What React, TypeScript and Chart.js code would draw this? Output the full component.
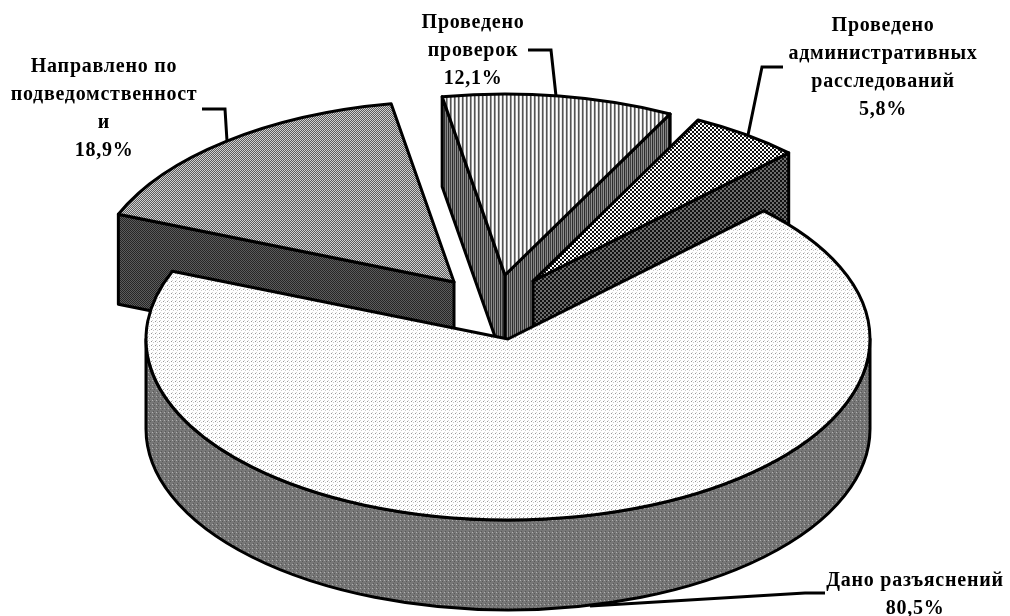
import React, { useEffect, useRef } from "react";
import { Chart, registerables } from "chart.js";

Chart.register(...registerables);

const categories: string[][] = [
  ["Направлено по", "подведомственност", "и"],
  ["Проведено", "проверок"],
  ["Проведено", "административных", "расследований"],
  ["Дано разъяснений"],
];
const values = [18.9, 12.1, 5.8, 80.5];

const CX = 495, CY = 307, SQUASH = 0.5, DEPTH = 90, EXPLODE = 65, RADIUS = 362;

const labelStyle = [
  { x: 104, y: 67 },
  { x: 473, y: 23 },
  { x: 883, y: 26 },
  { x: 915, y: 581 },
];
const leaders: number[][][] = [
  [[202, 109], [225, 109], [227, 141]],
  [[528, 50], [551, 50], [556, 96]],
  [[783, 67], [762, 67], [748, 135]],
  [[825, 593], [805, 593], [590, 606]],
];

function tile(rows: string[][]) {
  const c = document.createElement("canvas");
  c.height = rows.length;
  c.width = rows[0].length;
  const x = c.getContext("2d")!;
  rows.forEach((r, j) => r.forEach((col, i) => {
    x.fillStyle = col;
    x.fillRect(i, j, 1, 1);
  }));
  return c;
}
function pattern(ctx: CanvasRenderingContext2D, rows: string[][], cancelSquash: boolean) {
  const p = ctx.createPattern(tile(rows), "repeat")!;
  if (cancelSquash) p.setTransform(new DOMMatrix().scale(1, 1 / SQUASH));
  return p;
}
const W = "#ffffff";
const topTiles: string[][][] = [
  [["#5c5c5c", "#d0d0d0"], ["#d0d0d0", "#5c5c5c"]],
  [[W, "#e8e8e8", "#555555", "#9a9a9a"]],
  [["#111", "#111", W, W], ["#111", "#111", W, W], [W, W, "#111", "#111"], [W, W, "#111", "#111"]],
  [["#999999", W, W, W], [W, W, "#cccccc", W], [W, W, W, W], [W, "#d4d4d4", W, W]],
];
const sideTiles: string[][][] = [
  [["#262626", "#5c5c5c"], ["#5c5c5c", "#262626"]],
  [["#2c2c2c", "#808080", "#404040", "#909090"]],
  [["#111", "#111", "#6c6c6c", "#6c6c6c"], ["#111", "#111", "#6c6c6c", "#6c6c6c"], ["#6c6c6c", "#6c6c6c", "#111", "#111"], ["#6c6c6c", "#6c6c6c", "#111", "#111"]],
  [["#b0b0b0", "#777", "#777", "#777"], ["#777", "#777", "#5a5a5a", "#777"], ["#777", "#777", "#777", "#777"], ["#777", "#5a5a5a", "#777", "#777"]],
];

export default function App() {
  const ref = useRef<HTMLCanvasElement>(null);
  useEffect(() => {
    const canvas = ref.current!;
    const c2d = canvas.getContext("2d")!;
    const sides = sideTiles.map((t) => pattern(c2d, t, false));

    const pie3d = {
      id: "pie3d",
      beforeDatasetsDraw(chart: any) {
        const ctx: CanvasRenderingContext2D = chart.ctx;
        const arcs = chart.getDatasetMeta(0).data;
        const shift = (a: any) => {
          const mid = (a.startAngle + a.endAngle) / 2;
          return [
            Math.round(CX + EXPLODE * Math.cos(mid)),
            Math.round(CY + SQUASH * EXPLODE * Math.sin(mid)),
          ];
        };
        const rim = (a: any, t: number) => {
          const [ox, oy] = shift(a);
          return [ox + a.outerRadius * Math.cos(t), oy + SQUASH * a.outerRadius * Math.sin(t)];
        };
        ctx.lineWidth = 3;
        ctx.lineJoin = "round";
        ctx.strokeStyle = "#000";
        const paint = (i: number) => {
          ctx.fillStyle = sides[i];
          ctx.fill();
          ctx.stroke();
        };
        arcs.forEach((a: any, i: number) => {
          const [ox, oy] = shift(a);
          const radial = (t: number) => {
            const [x, y] = rim(a, t);
            ctx.beginPath();
            ctx.moveTo(ox, oy);
            ctx.lineTo(x, y);
            ctx.lineTo(x, y + DEPTH);
            ctx.lineTo(ox, oy + DEPTH);
            ctx.closePath();
            paint(i);
          };
          if (-Math.cos(a.startAngle) > 0) radial(a.startAngle);
          if (Math.cos(a.endAngle) > 0) radial(a.endAngle);
          // outer wall: the lower half of the rim, pushed down by the depth
          const norm = (t: number) => {
            const tau = Math.PI * 2;
            return ((t % tau) + tau) % tau;
          };
          let s = norm(a.startAngle);
          let e = s + (a.endAngle - a.startAngle);
          if (s > Math.PI) s -= Math.PI * 2, e -= Math.PI * 2;
          const from = Math.max(s, 0);
          const to = Math.min(e, Math.PI);
          if (to > from) {
            ctx.beginPath();
            ctx.ellipse(ox, oy, a.outerRadius, SQUASH * a.outerRadius, 0, from, to);
            ctx.ellipse(ox, oy + DEPTH, a.outerRadius, SQUASH * a.outerRadius, 0, to, from, true);
            ctx.closePath();
            paint(i);
          }
        });
        arcs.forEach((a: any) => {
          const [ox, oy] = shift(a);
          ctx.save();
          ctx.translate(ox, oy);
          ctx.scale(1, SQUASH);
          ctx.translate(-a.x, -a.y);
          a.draw(ctx);
          ctx.beginPath();
          ctx.moveTo(a.x, a.y);
          ctx.arc(a.x, a.y, a.outerRadius, a.startAngle, a.endAngle);
          ctx.closePath();
          ctx.restore();
          ctx.stroke();
        });
        return false;
      },
      afterDraw(chart: any) {
        const ctx: any = chart.ctx;
        ctx.save();
        ctx.strokeStyle = "#000";
        ctx.lineWidth = 3;
        ctx.lineJoin = "miter";
        leaders.forEach((pts) => {
          ctx.beginPath();
          pts.forEach(([x, y], k) => (k ? ctx.lineTo(x, y) : ctx.moveTo(x, y)));
          ctx.stroke();
        });
        ctx.fillStyle = "#000";
        ctx.font = "bold 20px 'Liberation Serif'";
        ctx.letterSpacing = "0.75px";
        ctx.textAlign = "center";
        ctx.textBaseline = "middle";
        categories.forEach((lines, i) => {
          const pct = values[i].toFixed(1).replace(".", ",") + "%";
          const all = [...lines, pct];
          const { x, y } = labelStyle[i];
          all.forEach((t, k) => ctx.fillText(t, x, y + k * 28));
        });
        ctx.restore();
      },
    };

    const chart = new Chart(canvas, {
      type: "pie",
      data: {
        labels: categories.map((c) => c.join(" ")),
        datasets: [
          {
            data: values,
            backgroundColor: topTiles.map((t) => pattern(c2d, t, true)),
            borderWidth: 0,
            radius: RADIUS,
          } as any,
        ],
      },
      options: {
        responsive: false,
        animation: false,
        rotation: 292,
        layout: { padding: 0 },
        plugins: { legend: { display: false }, tooltip: { enabled: false } },
      },
      plugins: [pie3d as any],
    });
    return () => chart.destroy();
  }, []);
  return (
    <div style={{ position: "absolute", left: 0, top: 0, width: 1010, height: 616, background: "#fff" }}>
      <canvas ref={ref} width={1010} height={616} style={{ display: "block" }} />
    </div>
  );
}
